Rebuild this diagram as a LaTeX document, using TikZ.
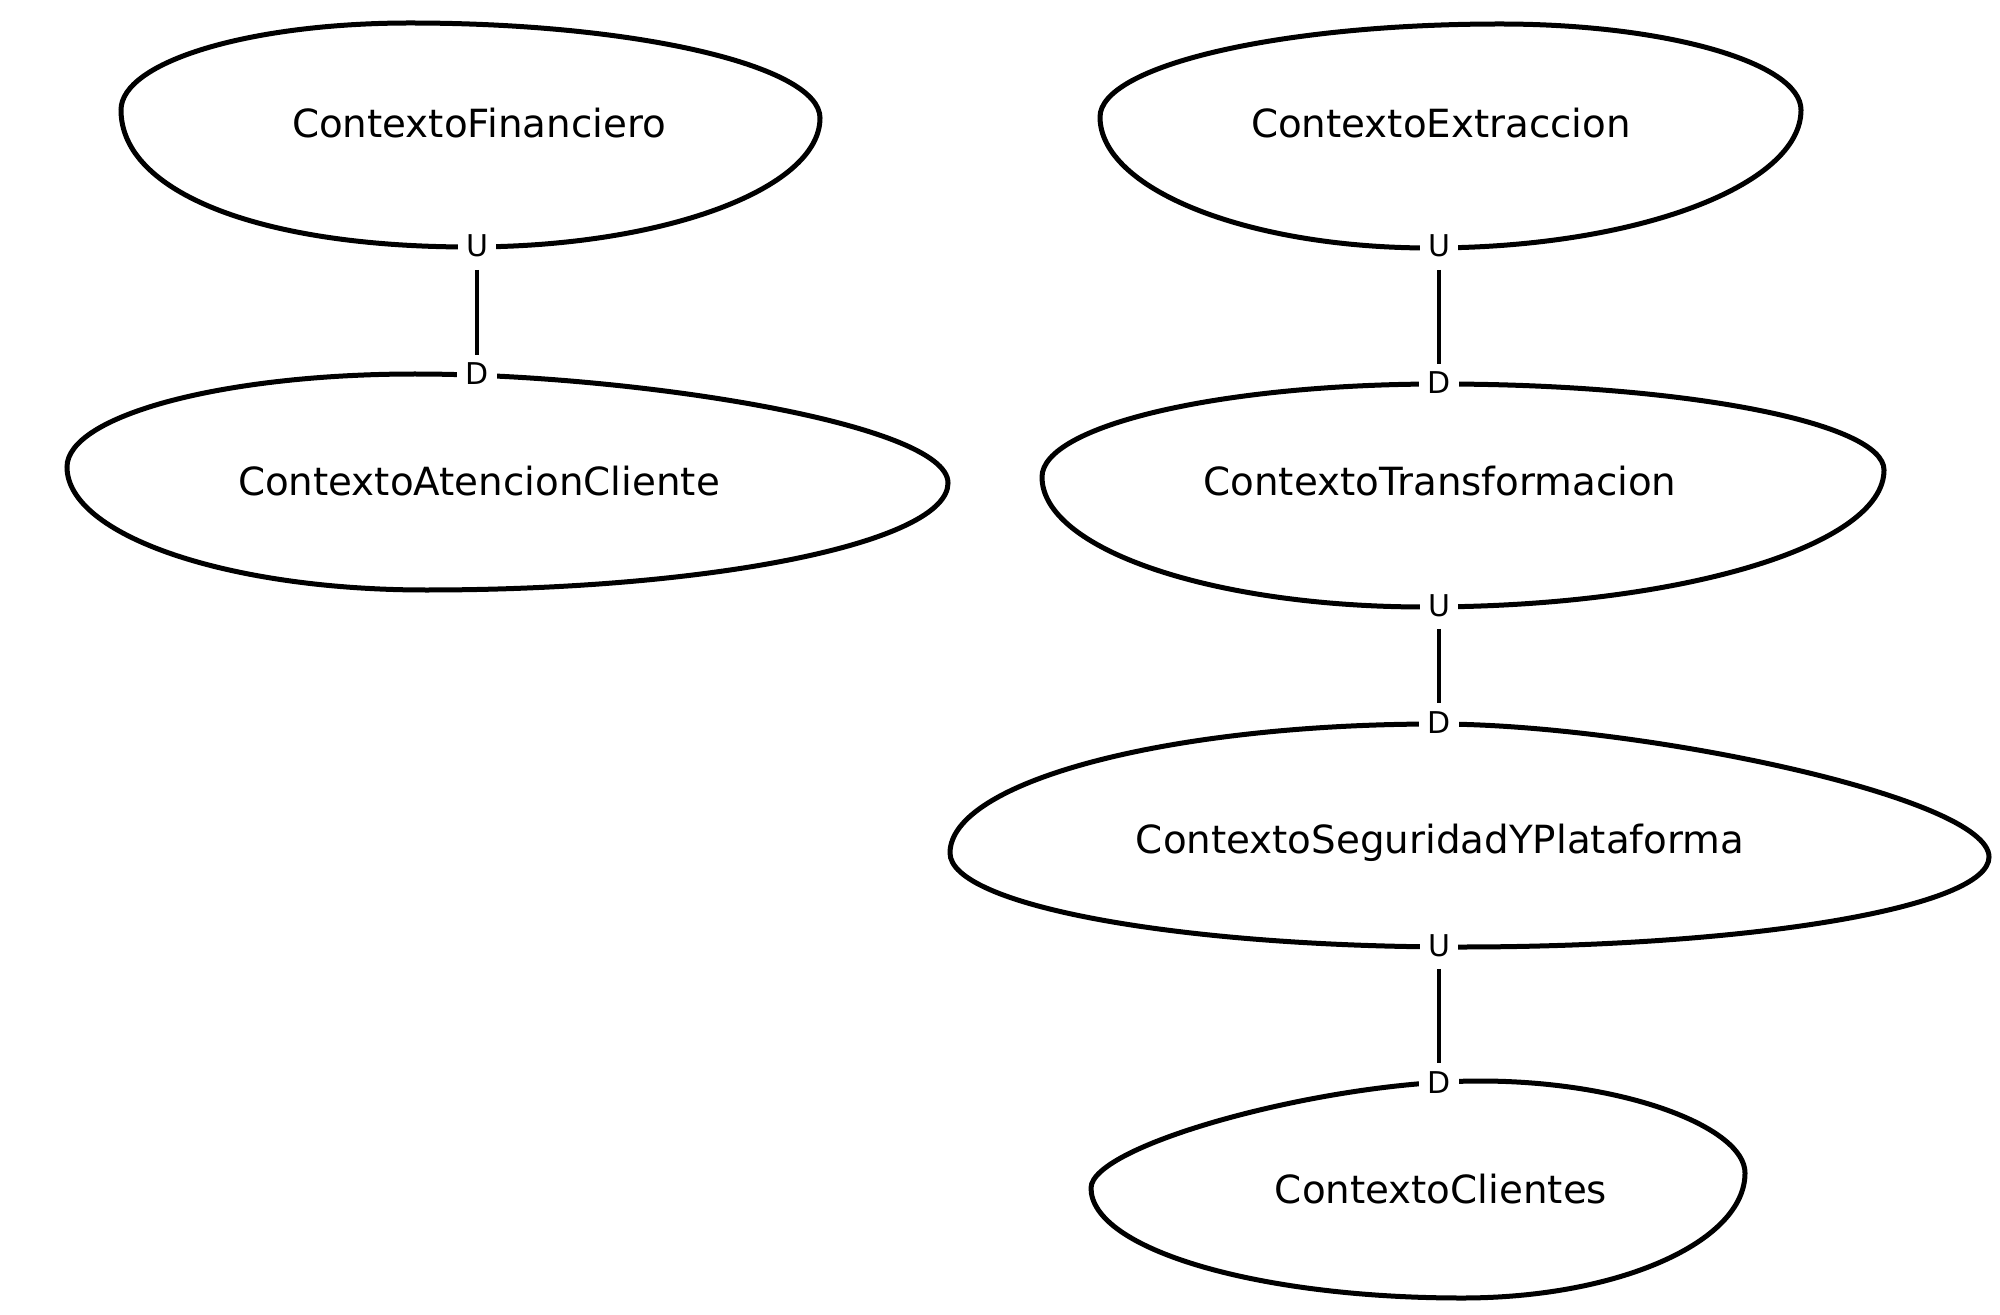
\documentclass[tikz,border=0pt]{standalone}
\usepackage{fontspec}
\setmainfont{DejaVu Sans}
\begin{document}
\begin{tikzpicture}[x=0.5pt,y=-0.5pt,
  ctx/.style={draw=black,line width=2.5pt},
  ctxname/.style={anchor=base,inner sep=0pt,font=\fontsize{19.4pt}{23pt}\selectfont},
  rolelbl/.style={anchor=base,fill=white,inner xsep=4pt,inner ysep=0pt,font=\fontsize{15pt}{18pt}\selectfont},
  rel/.style={draw=black,line width=2.4pt,shorten <=6pt,shorten >=4pt}]
\useasboundingbox (0,0) rectangle (2000,1315);

% ContextoFinanciero
\draw[ctx] (410,23) .. controls +(226,0) and +(0,-52) .. (820,118)
  .. controls +(0,71) and +(193,0) .. (470,247)
  .. controls +(-211,0) and +(0,82) .. (121,110)
  .. controls +(0,-48) and +(-161,0) .. cycle;
\node[ctxname] (fin) at (479,138) {ContextoFinanciero};

% ContextoAtencionCliente
\draw[ctx] (415,374) .. controls +(214,0) and +(0,-60) .. (948,483)
  .. controls +(0,59) and +(289,0) .. (426,590)
  .. controls +(-199,0) and +(0,68) .. (67,467)
  .. controls +(0,-51) and +(-193,0) .. cycle;
\node[ctxname] (ate) at (479,495) {ContextoAtencionCliente};

% ContextoExtraccion
\draw[ctx] (1500,24) .. controls +(167,0) and +(0,-47) .. (1801,110)
  .. controls +(0,76) and +(205,0) .. (1430,248)
  .. controls +(-183,0) and +(0,72) .. (1100,117)
  .. controls +(0,-51) and +(-221,0) .. cycle;
\node[ctxname] (ext) at (1441,138) {ContextoExtraccion};

% ContextoTransformacion
\draw[ctx] (1440,384) .. controls +(246,0) and +(0,-47) .. (1884,470)
  .. controls +(0,76) and +(254,0) .. (1425,607)
  .. controls +(-213,0) and +(0,72) .. (1042,477)
  .. controls +(0,-51) and +(-221,0) .. cycle;
\node[ctxname] (tra) at (1440,495) {ContextoTransformacion};

% ContextoSeguridadYPlataforma
\draw[ctx] (1437,724) .. controls +(200,0) and +(0,-60) .. (1989,857)
  .. controls +(0,50) and +(293,0) .. (1460,947)
  .. controls +(-283,0) and +(0,52) .. (950,853)
  .. controls +(0,-71) and +(-270,0) .. cycle;
\node[ctxname] (seg) at (1440,853) {ContextoSeguridadYPlataforma};

% ContextoClientes
\draw[ctx] (1480,1081) .. controls +(146,0) and +(0,-45) .. (1745,1173)
  .. controls +(0,69) and +(156,0) .. (1462,1298)
  .. controls +(-205,0) and +(0,61) .. (1091,1188)
  .. controls +(0,-43) and +(-156,0) .. cycle;
\node[ctxname] (cli) at (1441,1203) {ContextoClientes};

% role labels
\node[rolelbl] (u1) at (477,257) {U};
\node[rolelbl] (d1) at (477,385) {D};
\node[rolelbl] (u2) at (1439,257) {U};
\node[rolelbl] (d2) at (1439,394) {D};
\node[rolelbl] (u3) at (1439,616) {U};
\node[rolelbl] (d3) at (1439,733) {D};
\node[rolelbl] (u4) at (1439,956) {U};
\node[rolelbl] (d4) at (1439,1093) {D};

% relationships
\draw[rel] (u1.south) -- (d1.north);
\draw[rel] (u2.south) -- (d2.north);
\draw[rel] (u3.south) -- (d3.north);
\draw[rel] (u4.south) -- (d4.north);
\end{tikzpicture}
\end{document}
